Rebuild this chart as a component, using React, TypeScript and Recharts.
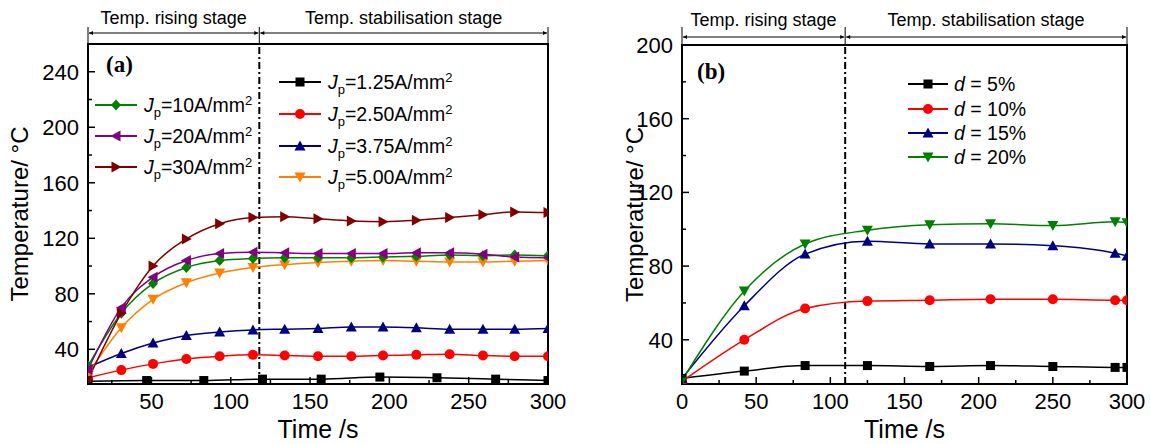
import React from 'react';
import { LineChart, Line, XAxis, YAxis, ReferenceLine, ReferenceArea, Legend } from 'recharts';

const FONT = '"Liberation Sans", Arial, Helvetica, sans-serif';

// ---- panel (a): temperature for different current densities ----
const timeA = [10, 31, 51, 72, 93, 114, 134, 155, 176, 196, 217, 238, 259, 279, 300];
const timeA125 = [10, 47, 83, 120, 157, 194, 230, 267, 300];
const jp125 = [17, 17.5, 17.5, 18.5, 18.5, 20, 19.5, 18.5, 17.5];
const jp250 = [19.5, 25, 29.5, 33, 35, 36, 35.5, 35, 35, 35.5, 36, 36.5, 35.5, 35, 35];
const jp375 = [27, 37, 44.5, 50, 52.5, 54, 54.5, 55, 56, 56, 55.5, 54.5, 54.5, 54.5, 55];
const jp500 = [22, 55.5, 76, 88, 95, 99, 101, 102.5, 103.5, 104, 103.5, 103, 103, 103.5, 104];
const jp10 = [28, 66, 87.5, 99, 104, 105.5, 106, 106, 106, 106.5, 107, 108, 107.5, 108, 107.5];
const jp20 = [25.5, 70, 92, 104, 109, 110, 109.5, 109, 109, 109, 109.5, 109.5, 108.5, 106.5, 106];
const jp30 = [18, 66, 100, 119.5, 130.5, 135, 135.5, 134, 132.5, 132, 133, 135, 137, 139, 138.5];
const ticksAX = [25, 50, 75, 100, 125, 150, 175, 200, 225, 250, 275, 300];
const ticksAY = [20, 40, 60, 80, 100, 120, 140, 160, 180, 200, 220, 240];
const stageA = [10, 118, 300];

// ---- panel (b): temperature for different d ----
const timeB = [0, 42, 83, 125, 167, 208, 250, 292, 300];
const d5 = [19, 23, 26, 26, 25.5, 26, 25.5, 25, 25];
const d10 = [17.5, 40, 57, 61, 61.5, 62, 62, 61.5, 61.5];
const d15 = [19, 58.5, 86.5, 93.5, 92, 92, 91, 87, 85.5];
const d20 = [18, 66.5, 92, 99.5, 102.5, 103, 102, 104, 103.5];
const ticksBX = [0, 25, 50, 75, 100, 125, 150, 175, 200, 225, 250, 275, 300];
const ticksBY = [20, 40, 60, 80, 100, 120, 140, 160, 180, 200];
const stageB = [0, 110, 300];

const stageLabels = ['Temp. rising stage', 'Temp. stabilisation stage'];

type Series = { key: string; label: string; color: string; shape: string; col: number };

const seriesA: Series[] = [
  { key: 'j125', label: '1.25', color: '#000000', shape: 'square', col: 1 },
  { key: 'j250', label: '2.50', color: '#ff0000', shape: 'circle', col: 1 },
  { key: 'j375', label: '3.75', color: '#000080', shape: 'up', col: 1 },
  { key: 'j500', label: '5.00', color: '#ff8000', shape: 'down', col: 1 },
  { key: 'j10', label: '10', color: '#008000', shape: 'diamond', col: 0 },
  { key: 'j20', label: '20', color: '#800080', shape: 'left', col: 0 },
  { key: 'j30', label: '30', color: '#800000', shape: 'right', col: 0 },
];

const seriesB: Series[] = [
  { key: 'd5', label: '5%', color: '#000000', shape: 'square', col: 0 },
  { key: 'd10', label: '10%', color: '#ff0000', shape: 'circle', col: 0 },
  { key: 'd15', label: '15%', color: '#000080', shape: 'up', col: 0 },
  { key: 'd20', label: '20%', color: '#008000', shape: 'down', col: 0 },
];

// merge the two time bases of panel (a) into one table
const dataA = Array.from(new Set([...timeA, ...timeA125]))
  .sort((a, b) => a - b)
  .map((t) => {
    const row: any = { t };
    const i = timeA.indexOf(t);
    if (i >= 0) {
      row.j250 = jp250[i];
      row.j375 = jp375[i];
      row.j500 = jp500[i];
      row.j10 = jp10[i];
      row.j20 = jp20[i];
      row.j30 = jp30[i];
    }
    const k = timeA125.indexOf(t);
    if (k >= 0) row.j125 = jp125[k];
    return row;
  });

const dataB = timeB.map((t, i) => ({ t, d5: d5[i], d10: d10[i], d15: d15[i], d20: d20[i] }));

const Marker = ({ shape, cx, cy, color }: { shape: string; cx: number; cy: number; color: string }) => {
  const s = 5.5;
  switch (shape) {
    case 'square':
      return <rect x={cx - 4.5} y={cy - 4.5} width={9} height={9} fill={color} />;
    case 'circle':
      return <circle cx={cx} cy={cy} r={5} fill={color} />;
    case 'up':
      return <polygon points={`${cx},${cy - s} ${cx + s},${cy + 4.5} ${cx - s},${cy + 4.5}`} fill={color} />;
    case 'down':
      return <polygon points={`${cx},${cy + s} ${cx + s},${cy - 4.5} ${cx - s},${cy - 4.5}`} fill={color} />;
    case 'diamond':
      return <polygon points={`${cx},${cy - s} ${cx + 5},${cy} ${cx},${cy + s} ${cx - 5},${cy}`} fill={color} />;
    case 'left':
      return <polygon points={`${cx - s},${cy} ${cx + 4.5},${cy - s} ${cx + 4.5},${cy + s}`} fill={color} />;
    default:
      return <polygon points={`${cx + s},${cy} ${cx - 4.5},${cy - s} ${cx - 4.5},${cy + s}`} fill={color} />;
  }
};

const dotFor = (s: Series) => (p: any) => {
  if (p.cy == null || p.value == null) return <g key={p.key} />;
  return <Marker key={p.key} shape={s.shape} cx={p.cx} cy={p.cy} color={s.color} />;
};

const leftTick = (every: number, gap: number) => (props: any) => {
  const { x, y, payload } = props;
  const v = payload.value as number;
  const major = v % every === 0;
  const ax = x + gap;
  return (
    <g>
      <line x1={ax} x2={ax + (major ? 7 : 4)} y1={y} y2={y} stroke="#000" strokeWidth={1.5} />
      {major && (
        <text x={x} y={y} dy="0.36em" textAnchor="end" fontSize={22} fontFamily={FONT} fill="#000">
          {v}
        </text>
      )}
    </g>
  );
};

const bottomTick = (every: number, gap: number) => (props: any) => {
  const { x, y, payload } = props;
  const v = payload.value as number;
  const major = v % every === 0;
  const ay = y - gap;
  return (
    <g>
      <line x1={x} x2={x} y1={ay} y2={ay - (major ? 7 : 4)} stroke="#000" strokeWidth={1.5} />
      {major && (
        <text x={x} y={y} dy="0.72em" textAnchor="middle" fontSize={22} fontFamily={FONT} fill="#000">
          {v}
        </text>
      )}
    </g>
  );
};

const YTitle = (props: any) => {
  const { viewBox, dx } = props;
  const cx = viewBox.x + dx;
  const cy = viewBox.y + viewBox.height / 2;
  return (
    <text x={cx} y={cy} transform={`rotate(-90 ${cx} ${cy})`} textAnchor="middle" fontSize={24} fontFamily={FONT} fill="#000">
      Temperature/ °C
    </text>
  );
};

const XTitle = (props: any) => {
  const { viewBox } = props;
  return (
    <text x={viewBox.x + viewBox.width / 2} y={viewBox.y + 54} textAnchor="middle" fontSize={25} fontFamily={FONT} fill="#000">
      Time /s
    </text>
  );
};

type Row = { x: number; y: number };
type LegendLayout = { rows: Row[][]; lineW: number; gapText: number };

const legendText = (panel: string, s: Series) =>
  panel === 'a' ? (
    <>
      <tspan fontStyle="italic">J</tspan>
      <tspan fontSize={13} dy={5}>p</tspan>
      <tspan dy={-5}>{`=${s.label}A/mm`}</tspan>
      <tspan fontSize={13} dy={-7}>2</tspan>
    </>
  ) : (
    <>
      <tspan fontStyle="italic">d</tspan>
      <tspan>{` = ${s.label}`}</tspan>
    </>
  );

const makeLegend = (panel: string, series: Series[], layout: LegendLayout, w: number, h: number) => () => {
  const count = [0, 0];
  return (
    <svg width={w} height={h} style={{ position: 'absolute', left: 0, top: 0 }}>
      {series.map((s) => {
        const r = layout.rows[s.col][count[s.col]++];
        return (
          <g key={s.key}>
            <line x1={r.x} x2={r.x + layout.lineW} y1={r.y} y2={r.y} stroke={s.color} strokeWidth={2} />
            <Marker shape={s.shape} cx={r.x + layout.lineW / 2} cy={r.y} color={s.color} />
            <text x={r.x + layout.lineW + layout.gapText} y={r.y} dy="0.36em" fontSize={19.5} fontFamily={FONT} fill="#000">
              {legendText(panel, s)}
            </text>
          </g>
        );
      })}
    </svg>
  );
};

const StageBar = ({ plotLeft, plotRight, d0, d1, bounds, textY, arrowY, topY, plotTop, id }: any) => {
  const px = (v: number) => plotLeft + ((v - d0) / (d1 - d0)) * (plotRight - plotLeft);
  return (
    <g>
      <defs>
        <marker id={id} viewBox="0 0 10 10" refX="10" refY="5" markerWidth="9" markerHeight="4" orient="auto-start-reverse" markerUnits="userSpaceOnUse">
          <path d="M0,0 L10,5 L0,10 z" fill="#000" />
        </marker>
      </defs>
      {bounds.map((b: number, i: number) => (
        <line key={'v' + i} x1={px(b)} x2={px(b)} y1={topY} y2={plotTop} stroke="#000" strokeWidth={1} />
      ))}
      {bounds.slice(0, -1).map((b: number, i: number) => {
        const x1 = px(b) + 1;
        const x2 = px(bounds[i + 1]) - 1;
        return (
          <g key={'s' + i}>
            <line x1={x1} x2={x2} y1={arrowY} y2={arrowY} stroke="#000" strokeWidth={1} markerStart={`url(#${id})`} markerEnd={`url(#${id})`} />
            <text x={(x1 + x2) / 2} y={textY} dy="0.36em" textAnchor="middle" fontSize={18} fontFamily={FONT} fill="#000">
              {stageLabels[i]}
            </text>
          </g>
        );
      })}
    </g>
  );
};

const Panel = ({ panel, left, width, height, yAxisW, plotRight, plotTop, xDomain, yDomain, xTicks, yTicks, stage, data, series, legend, titleDx, stageText, stageArrow, stageTop, letterX, letterY }: any) => {
  const plotBottom = 384;
  return (
    <div style={{ position: 'absolute', left, top: 0, width, height }}>
      <LineChart width={width} height={height} data={data} margin={{ top: plotTop, right: width - plotRight, bottom: 0, left: 0 }}>
        <XAxis
          dataKey="t"
          type="number"
          domain={xDomain}
          ticks={xTicks}
          interval={0}
          allowDataOverflow
          height={height - plotBottom}
          tickSize={0}
          tickMargin={9}
          tickLine={false}
          axisLine={{ stroke: '#000', strokeWidth: 2 }}
          tick={bottomTick(50, 9)}
          label={<XTitle />}
        />
        <YAxis
          type="number"
          domain={yDomain}
          ticks={yTicks}
          interval={0}
          allowDataOverflow
          width={yAxisW}
          tickSize={0}
          tickMargin={9}
          tickLine={false}
          axisLine={{ stroke: '#000', strokeWidth: 2 }}
          tick={leftTick(40, 9)}
          label={<YTitle dx={titleDx} />}
        />
        <ReferenceArea x1={xDomain[0]} x2={xDomain[1]} y1={yDomain[0]} y2={yDomain[1]} fill="none" stroke="#000" strokeWidth={2} />
        <ReferenceLine x={stage[1]} stroke="#000" strokeWidth={2} strokeDasharray="7 3 2 3" />
        <Legend layout="vertical" align="center" verticalAlign="middle" wrapperStyle={{ left: 0, top: 0, width, height }} content={makeLegend(panel, series, legend, width, height)} />
        {series.map((s: Series) => (
          <Line
            key={s.key}
            dataKey={s.key}
            name={s.label}
            type="monotone"
            stroke={s.color}
            strokeWidth={1.5}
            connectNulls
            dot={dotFor(s)}
            activeDot={false}
            isAnimationActive={false}
          />
        ))}
      </LineChart>
      <svg width={width} height={height} style={{ position: 'absolute', left: 0, top: 0, pointerEvents: 'none' }}>
        <StageBar
          id={'arrow-' + panel}
          plotLeft={yAxisW}
          plotRight={plotRight}
          d0={xDomain[0]}
          d1={xDomain[1]}
          bounds={stage}
          textY={stageText}
          arrowY={stageArrow}
          topY={stageTop}
          plotTop={plotTop}
        />
        <text x={letterX} y={letterY} dy="0.36em" fontSize={23} fontWeight="bold" fontFamily='"Liberation Serif", "Times New Roman", serif' fill="#000">
          ({panel})
        </text>
      </svg>
    </div>
  );
};

export default function App() {
  return (
    <div style={{ position: 'absolute', left: 0, top: 0, width: 1150, height: 444, background: '#fff', fontFamily: FONT }}>
      <Panel
        panel="a"
        left={0}
        width={575}
        height={444}
        yAxisW={88}
        plotRight={548}
        plotTop={44}
        xDomain={[10, 300]}
        yDomain={[15, 260]}
        xTicks={ticksAX}
        yTicks={ticksAY}
        stage={stageA}
        data={dataA}
        series={seriesA}
        legend={{
          rows: [
            [{ x: 95, y: 105 }, { x: 95, y: 136 }, { x: 95, y: 167 }],
            [{ x: 279, y: 82 }, { x: 279, y: 114 }, { x: 279, y: 146 }, { x: 279, y: 177 }],
          ],
          lineW: 42,
          gapText: 7,
        }}
        titleDx={28}
        stageText={18}
        stageArrow={33}
        stageTop={27}
        letterX={106}
        letterY={64}
      />
      <Panel
        panel="b"
        left={590}
        width={560}
        height={444}
        yAxisW={92}
        plotRight={537}
        plotTop={45}
        xDomain={[0, 300]}
        yDomain={[16, 200]}
        xTicks={ticksBX}
        yTicks={ticksBY}
        stage={stageB}
        data={dataB}
        series={seriesB}
        legend={{
          rows: [[{ x: 318, y: 84 }, { x: 318, y: 109 }, { x: 318, y: 133 }, { x: 318, y: 157 }]],
          lineW: 40,
          gapText: 6,
        }}
        titleDx={53}
        stageText={20}
        stageArrow={37}
        stageTop={27}
        letterX={107}
        letterY={71}
      />
    </div>
  );
}
